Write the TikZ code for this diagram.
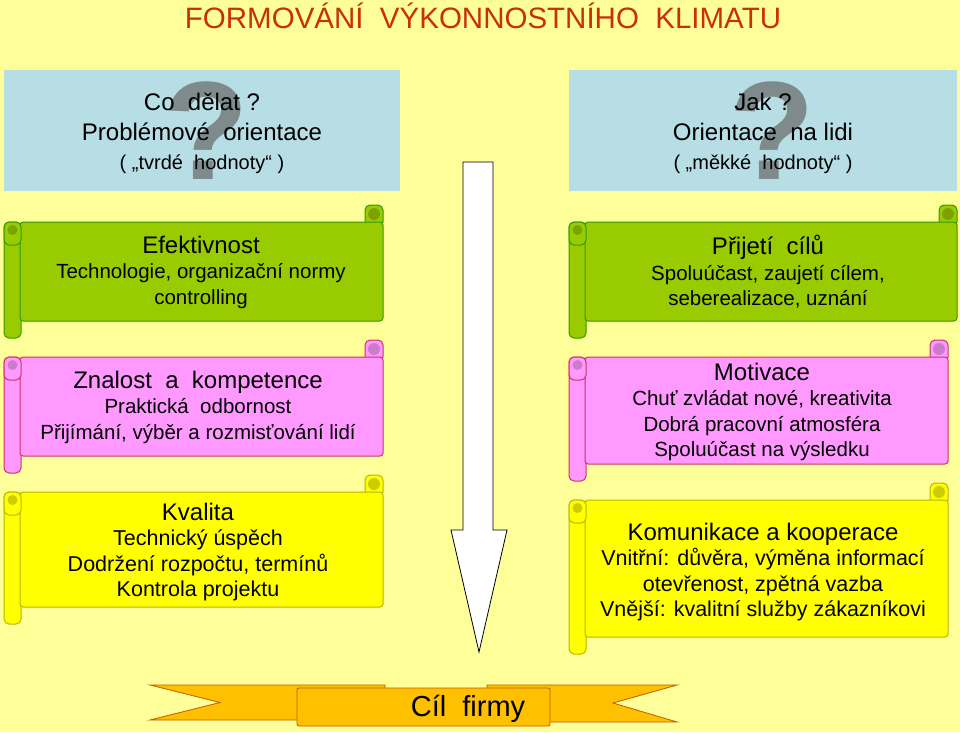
\documentclass[tikz,border=0pt]{standalone}
\usepackage{fontspec}
\setmainfont{Liberation Sans}
\begin{document}
\begin{tikzpicture}[x=1pt,y=-1pt,
  txt/.style={align=center,inner sep=0pt,text=black},
  sub/.style={font=\fontsize{20.5}{25.5}\selectfont},
  ribbon/.style={fill=ribbonc,draw=ribbonb,line width=0.8pt}]
\definecolor{bg}{HTML}{FFFF99}
\definecolor{blu}{HTML}{B7DEE4}
\definecolor{qm}{HTML}{7F8A8C}
\definecolor{grn}{HTML}{99CC00}\definecolor{grnb}{HTML}{339900}\definecolor{grnd}{HTML}{7AA300}
\definecolor{pnk}{HTML}{FF99FF}\definecolor{pnkb}{HTML}{CC3366}\definecolor{pnkd}{HTML}{CC7ACC}
\definecolor{yel}{HTML}{FFFF00}\definecolor{yelb}{HTML}{B8B800}\definecolor{yeld}{HTML}{CCCC00}
\definecolor{ribbonc}{HTML}{FFC000}\definecolor{ribbonb}{HTML}{C05A00}
\definecolor{ttl}{HTML}{C8300A}
\newcommand\myscroll[7]{% x1 y1 x2 y2 fill border dark
  \draw[fill=#5,draw=#6,line width=1pt,rounded corners=5pt] (#1,#2+17) rectangle (#1+17,#4);
  \draw[fill=#5,draw=#6,line width=1pt,rounded corners=5pt] (#3-18,#2) rectangle (#3,#2+22);
  \draw[fill=#5,draw=#6,line width=1pt,rounded corners=3pt] (#1+16,#2+17) rectangle (#3,#4-17);
  \draw[fill=#5,draw=#6,line width=1pt,rounded corners=5pt] (#1,#2+17) rectangle (#1+17,#2+40);
  \fill[#7] (#1+8.5,#2+25) circle (5pt);
  \fill[#7] (#3-9,#2+9) circle (6pt);
}
\fill[bg] (0,0) rectangle (960,732);
\useasboundingbox (0,0) rectangle (960,732);
\node[txt,text=ttl,font=\fontsize{29.5}{30}\selectfont] (title) at (483,16) {FORMOVÁNÍ\ \ VÝKONNOSTNÍHO\ \ KLIMATU};
% blue boxes
\fill[blu] (4,70) rectangle (400,191);
\fill[blu] (569,70) rectangle (957,191);
\node[txt,text=qm,font=\bfseries\fontsize{140}{140}\selectfont] (q1) at (206,131) {?};
\node[txt,text=qm,font=\bfseries\fontsize{140}{140}\selectfont] (q2) at (772,131) {?};
\node[txt,font=\fontsize{24}{29}\selectfont] (b1) at (202,133) {Co\ \ dělat ?\\[1pt]Problémové\ \ orientace\\{\fontsize{20}{22}\selectfont ( „tvrdé\ \ hodnoty“ )}};
\node[txt,font=\fontsize{24}{29}\selectfont] (b2) at (763,133) {Jak ?\\[1pt]Orientace\ \ na lidi\\{\fontsize{20}{22}\selectfont ( „měkké\ \ hodnoty“ )}};
% scrolls
\myscroll{4}{205}{383}{338}{grn}{grnb}{grnd}
\myscroll{569}{205}{957}{338}{grn}{grnb}{grnd}
\myscroll{4}{340}{383}{473}{pnk}{pnkb}{pnkd}
\myscroll{569}{340}{948}{481}{pnk}{pnkb}{pnkd}
\myscroll{4}{475}{383}{624}{yel}{yelb}{yeld}
\myscroll{569}{483}{948}{654}{yel}{yelb}{yeld}
\node[txt,sub] (g1) at (201,272) {{\fontsize{24}{24}\selectfont Efektivnost}\\Technologie, organizační normy\\controlling};
\node[txt,sub] (g2) at (768,272) {{\fontsize{24}{24}\selectfont Přijetí\ \ cílů}\\Spoluúčast, zaujetí cílem,\\seberealizace, uznání};
\node[txt,sub] (p1) at (198,407) {{\fontsize{24}{24}\selectfont Znalost\ \ a\ \ kompetence}\\Praktická\ \ odbornost\\Přijímání, výběr a rozmisťování lidí};
\node[txt,sub] (p2) at (762,412) {{\fontsize{24}{24}\selectfont Motivace}\\Chuť zvládat nové, kreativita\\Dobrá pracovní atmosféra\\Spoluúčast na výsledku};
\node[txt,font=\fontsize{21.5}{25.5}\selectfont] (y1) at (198,552) {{\fontsize{24}{24}\selectfont Kvalita}\\Technický úspěch\\Dodržení rozpočtu, termínů\\Kontrola projektu};
\node[txt,font=\fontsize{21.5}{25.5}\selectfont] (y2) at (763,572) {{\fontsize{24}{24}\selectfont Komunikace a kooperace}\\Vnitřní: důvěra, výměna informací\\otevřenost, zpětná vazba\\Vnější: kvalitní služby zákazníkovi};
% arrow
\draw[fill=white,draw=black,line width=0.8pt] (463,162) -- (493,162) -- (493,530) -- (507,530) -- (479,652) -- (451,530) -- (463,530) -- cycle;
% ribbon
\draw[ribbon] (150,685) -- (385,685) -- (385,720) -- (150,720) -- (220,702.5) -- cycle;
\draw[ribbon] (487,685) -- (677,685) -- (613,703) -- (677,722) -- (487,722) -- cycle;
\draw[ribbon,rounded corners=2pt] (297,688) rectangle (550,726);
\node[txt,font=\fontsize{29}{30}\selectfont] (goal) at (468,709) {Cíl\ \ firmy};
\end{tikzpicture}
\end{document}
